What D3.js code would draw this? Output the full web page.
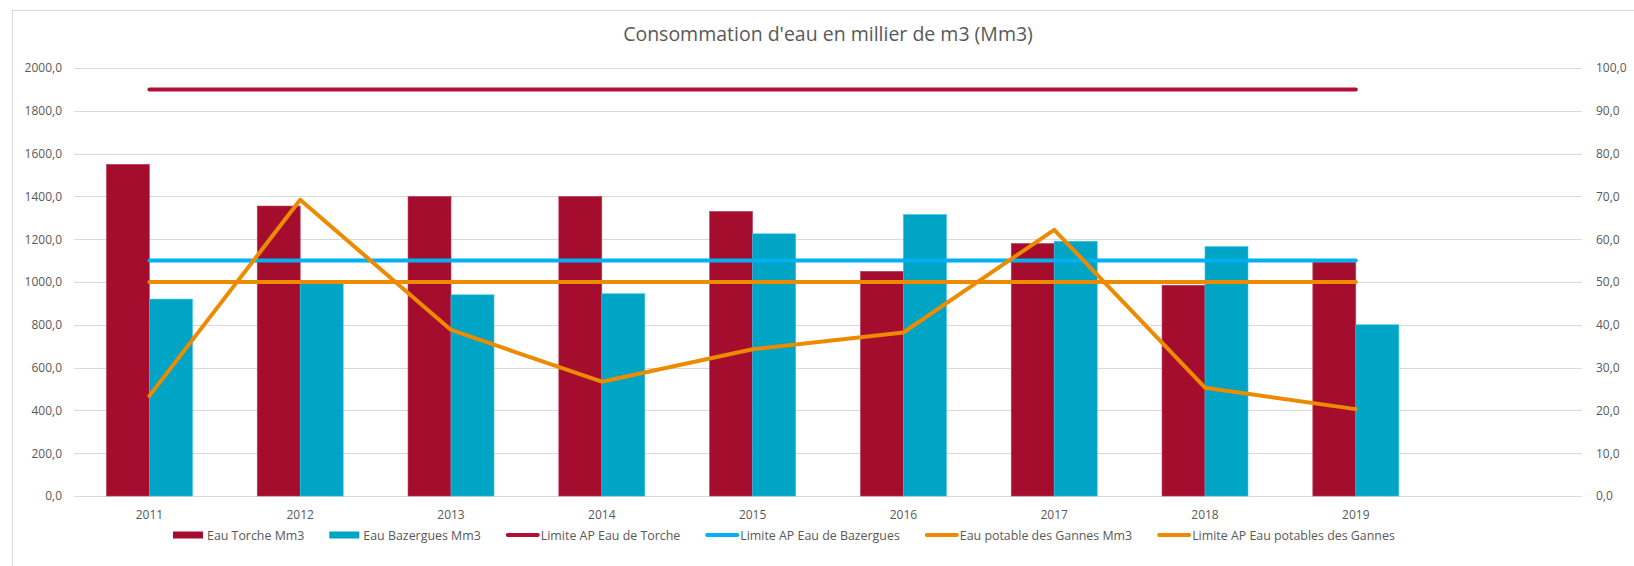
<!DOCTYPE html>
<html>
<head>
<meta charset="utf-8">
<script src="https://cdn.jsdelivr.net/npm/d3@7"></script>
<style>
  html, body { margin: 0; padding: 0; background: #fff; }
  svg { display: block; }
  text { font-family: "Open Sans", sans-serif; fill: #595959; }
</style>
</head>
<body>
<svg id="chart" width="1634" height="566"></svg>
<script>
// ---- data ----
const years = ["2011", "2012", "2013", "2014", "2015", "2016", "2017", "2018", "2019"];
const slots = years.concat([""]); // empty trailing category slot, as in the source sheet
const eauTorche = [1550, 1355, 1400, 1400, 1330, 1050, 1180, 985, 1093];
const eauBazergues = [920, 995, 940, 945, 1225, 1315, 1190, 1165, 800];
const limiteTorche = [1900, 1900, 1900, 1900, 1900, 1900, 1900, 1900, 1900];
const limiteBazergues = [1100, 1100, 1100, 1100, 1100, 1100, 1100, 1100, 1100];
const eauPotable = [23.4, 69.2, 38.8, 26.7, 34.3, 38.2, 62.2, 25.3, 20.3];
const limitePotable = [50, 50, 50, 50, 50, 50, 50, 50, 50];
const leftTicks = [0, 200, 400, 600, 800, 1000, 1200, 1400, 1600, 1800, 2000];
const rightTicks = [0, 10, 20, 30, 40, 50, 60, 70, 80, 90, 100];
const title = "Consommation d'eau en millier de m3 (Mm3)";
const legendItems = [
  { label: "Eau Torche Mm3", type: "rect", color: "#A50D2E" },
  { label: "Eau Bazergues Mm3", type: "rect", color: "#00A4C5" },
  { label: "Limite AP Eau de Torche", type: "line", color: "#B00F36" },
  { label: "Limite AP Eau de Bazergues", type: "line", color: "#00B0F0" },
  { label: "Eau potable des Gannes Mm3", type: "line", color: "#ED8B00" },
  { label: "Limite AP Eau potables des Gannes", type: "line", color: "#ED8B00" }
];

// ---- layout ----
const svg = d3.select("#chart");
const plot = { left: 74, right: 1582, top: 68, bottom: 496 };
const loc = d3.formatLocale({ decimal: ",", thousands: "", grouping: [3], currency: ["", "€"] });
const fmt = loc.format(".1f");

// chart area border
svg.append("rect")
  .attr("x", 12.5).attr("y", 10.5)
  .attr("width", 1640).attr("height", 580)
  .attr("fill", "#fff").attr("stroke", "#d9d9d9").attr("stroke-width", 1);

const x = d3.scaleBand().domain(slots).range([plot.left, plot.right])
  .paddingInner(0.43).paddingOuter(0.215);
const x1 = d3.scaleBand().domain(["t", "b"]).range([0, x.bandwidth()]);
const y = d3.scaleLinear().domain([0, 2000]).range([plot.bottom, plot.top]);
const y2 = d3.scaleLinear().domain([0, 100]).range([plot.bottom, plot.top]);
const cx = d => x(d) + x.bandwidth() / 2;

// gridlines
svg.append("g")
  .attr("transform", `translate(${plot.left},0)`)
  .call(d3.axisLeft(y).tickValues(leftTicks).tickSize(-(plot.right - plot.left)).tickFormat(""))
  .call(g => g.select(".domain").remove())
  .call(g => g.selectAll("line").attr("stroke", "#d9d9d9").attr("shape-rendering", "crispEdges"));

// left axis
svg.append("g")
  .attr("transform", `translate(${plot.left},0)`)
  .call(d3.axisLeft(y).tickValues(leftTicks).tickSize(0).tickPadding(12).tickFormat(fmt))
  .call(g => g.select(".domain").remove())
  .call(g => g.selectAll("text").style("font-size", "12px").attr("fill", "#595959").style("font-family", "Open Sans"));

// right axis
svg.append("g")
  .attr("transform", `translate(${plot.right},0)`)
  .call(d3.axisRight(y2).tickValues(rightTicks).tickSize(0).tickPadding(14).tickFormat(fmt))
  .call(g => g.select(".domain").remove())
  .call(g => g.selectAll("text").style("font-size", "12px").attr("fill", "#595959").style("font-family", "Open Sans"));

// bottom axis
svg.append("g")
  .attr("transform", `translate(0,${plot.bottom})`)
  .call(d3.axisBottom(x).tickValues(years).tickSize(0).tickPadding(14))
  .call(g => g.select(".domain").remove())
  .call(g => g.selectAll("text").style("font-size", "12px").attr("fill", "#595959").style("font-family", "Open Sans"));

// bars
const bars = svg.append("g");
bars.selectAll("rect.t").data(years).join("rect")
  .attr("class", "t")
  .attr("x", d => x(d) + x1("t"))
  .attr("width", x1.bandwidth())
  .attr("y", (d, i) => y(eauTorche[i]))
  .attr("height", (d, i) => y(0) - y(eauTorche[i]))
  .attr("fill", "#A50D2E").attr("stroke", "#b8415d").attr("stroke-width", 0.6);
bars.selectAll("rect.b").data(years).join("rect")
  .attr("class", "b")
  .attr("x", d => x(d) + x1("b"))
  .attr("width", x1.bandwidth())
  .attr("y", (d, i) => y(eauBazergues[i]))
  .attr("height", (d, i) => y(0) - y(eauBazergues[i]))
  .attr("fill", "#00A4C5").attr("stroke", "#2cc0ee").attr("stroke-width", 0.6);

// lines
function drawLine(values, scale, color) {
  const line = d3.line().x((d, i) => cx(years[i])).y(d => scale(d));
  svg.append("path").datum(values)
    .attr("d", line)
    .attr("fill", "none").attr("stroke", color).attr("stroke-width", 4)
    .attr("stroke-linejoin", "round").attr("stroke-linecap", "round");
}
drawLine(limiteTorche, y, "#B00F36");
drawLine(limiteBazergues, y, "#00B0F0");
drawLine(limitePotable, y2, "#ED8B00");
drawLine(eauPotable, y2, "#ED8B00");

// title
svg.append("text")
  .attr("x", (plot.left + plot.right) / 2).attr("y", 41)
  .attr("text-anchor", "middle")
  .style("font-size", "19.5px")
  .text(title);

// legend
const lg = svg.append("g");
let lx = 173;
const ly = 535;
legendItems.forEach(item => {
  const g = lg.append("g");
  let sw;
  if (item.type === "rect") {
    g.append("rect").attr("x", lx).attr("y", ly - 3.5).attr("width", 30).attr("height", 7).attr("fill", item.color);
    sw = 34;
  } else {
    g.append("line").attr("x1", lx + 2).attr("x2", lx + 32).attr("y1", ly).attr("y2", ly)
      .attr("stroke", item.color).attr("stroke-width", 4).attr("stroke-linecap", "round");
    sw = 35;
  }
  const t = g.append("text").attr("x", lx + sw).attr("y", ly + 4.5)
    .style("font-size", "12.4px").text(item.label);
  lx += sw + t.node().getComputedTextLength() + 25;
});
</script>
</body>
</html>
